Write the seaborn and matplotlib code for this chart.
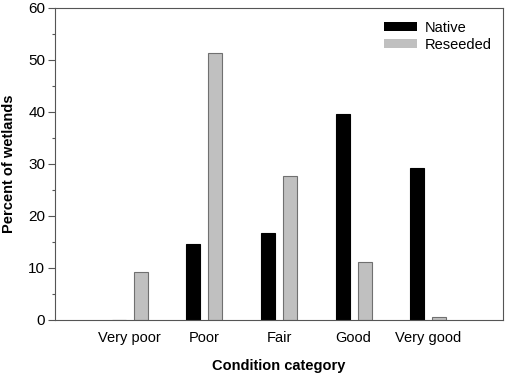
import pandas as pd
import matplotlib
matplotlib.use("Agg")
import matplotlib.pyplot as plt
import seaborn as sns
from matplotlib.ticker import MultipleLocator

categories = ["Very poor", "Poor", "Fair", "Good", "Very good"]
native = [0, 14.6, 16.7, 39.6, 29.2]
reseeded = [9.2, 51.4, 27.6, 11.2, 0.6]

plt.rcParams['font.family'] = ['Liberation Sans', 'DejaVu Sans']

df = pd.DataFrame({
    "Condition": categories * 2,
    "Percent": native + reseeded,
    "Type": ["Native"] * len(categories) + ["Reseeded"] * len(categories),
})

fig, ax = plt.subplots(figsize=(5.05, 3.75), dpi=100)
fig.subplots_adjust(left=0.109, right=0.996, top=0.979, bottom=0.147)

sns.barplot(data=df, x="Condition", y="Percent", hue="Type", order=categories,
            palette={"Native": "black", "Reseeded": "#c0c0c0"},
            width=0.59, gap=0.36, ax=ax)

edges = {"Native": "black", "Reseeded": "#707070"}
for cont, name in zip(ax.containers, ["Native", "Reseeded"]):
    for p in cont:
        p.set_edgecolor(edges[name])
        p.set_linewidth(0.8)

ax.set_xlim(-1, 5)
ax.set_ylim(0, 60)
ax.yaxis.set_major_locator(MultipleLocator(10))
ax.yaxis.set_minor_locator(MultipleLocator(5))
ax.tick_params(axis='y', which='major', length=5, width=0.8, color='#555555', labelsize=11, pad=2)
ax.tick_params(axis='y', which='minor', length=2.5, width=0.8, color='#555555')
ax.tick_params(axis='x', length=0, labelsize=10.5, pad=8)
for s in ax.spines.values():
    s.set_color('#555555')
    s.set_linewidth(0.8)

ax.set_xlabel("Condition category", fontsize=10.5, fontweight='bold', labelpad=10)
ax.set_ylabel("Percent of wetlands", fontsize=10.5, fontweight='bold', labelpad=9)

ax.legend(frameon=False, loc='upper right', fontsize=10.5, handlelength=2.25,
          handleheight=0.62, handletextpad=0.55, labelspacing=0.2,
          borderaxespad=0.2, bbox_to_anchor=(0.995, 0.987))

fig.savefig("out.png", dpi=100)
